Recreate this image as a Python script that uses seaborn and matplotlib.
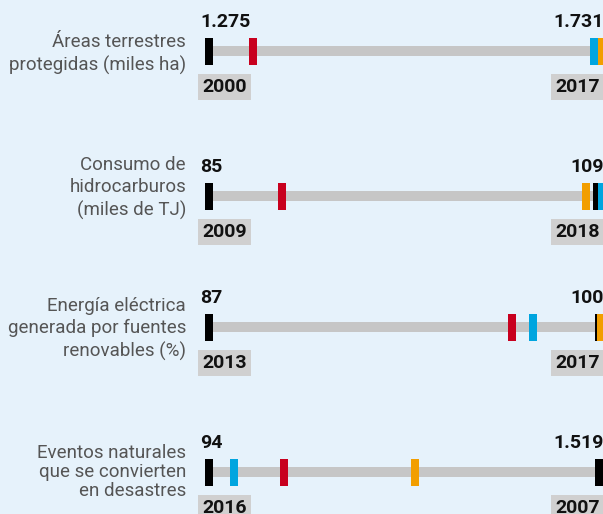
import matplotlib
matplotlib.use('Agg')
import matplotlib.pyplot as plt
from matplotlib.path import Path
import seaborn as sns
import pandas as pd

# --- data -------------------------------------------------------------
labels = ['Áreas terrestres\nprotegidas (miles ha)',
          'Consumo de\nhidrocarburos\n(miles de TJ)',
          'Energía eléctrica\ngenerada por fuentes\nrenovables (%)',
          'Eventos naturales\nque se convierten\nen desastres']
min_vals = [1275, 85, 87, 94]
max_vals = [1731, 109, 100, 1519]
min_txt = ['1.275', '85', '87', '94']
max_txt = ['1.731', '109', '100', '1.519']
min_year = ['2000', '2009', '2013', '2016']
max_year = ['2017', '2018', '2017', '2007']

# marker values per row
red_vals = [1326, 89.5, 97.1, 368]
black_vals = [1731, 108.9, 100, 1519]
blue_vals = [1725, 109.2, 97.8, 185]
orange_vals = [1735, 108.2, 100.07, 848]

BG = '#e6f2fb'
BAR = '#c6c6c6'
colors = {'min': '#000000', 'red': '#c8001e', 'black': '#000000',
          'blue': '#00a5df', 'orange': '#f29e00'}

# layout: row centres in pixels (y axis runs in pixels, top = 0)
row_y = [51, 196, 327, 472]
label_dy = [3, -8, 2, 0]
label_ls = [1.3, 1.3, 1.3, 1.1]

sns.set_theme(style='white')
plt.rcParams['font.family'] = ['Roboto', 'DejaVu Sans']

fig = plt.figure(figsize=(6.03, 5.14), dpi=100)
fig.patch.set_facecolor(BG)
ax = fig.add_axes([0, 0, 1, 1])
ax.set_facecolor(BG)
# t = 0 at the row minimum, t = 1 at the row maximum
ax.set_xlim(-209 / 390, (603 - 209) / 390)
ax.set_ylim(514, 0)
ax.axis('off')

rows = []
series = [('min', min_vals), ('red', red_vals), ('black', black_vals),
          ('blue', blue_vals), ('orange', orange_vals)]
for name, vals in series:
    for i, v in enumerate(vals):
        t = (v - min_vals[i]) / (max_vals[i] - min_vals[i])
        rows.append({'serie': name, 't': t, 'y': row_y[i]})
df = pd.DataFrame(rows)

# grey track
lc = ax.hlines(row_y, 0, 1.05, color=BAR, linewidth=7.2, zorder=1)
lc.set_capstyle('butt')

# tall rectangular ticks
rect = Path([(-4 / 27, -0.5), (4 / 27, -0.5), (4 / 27, 0.5), (-4 / 27, 0.5), (-4 / 27, -0.5)],
            [Path.MOVETO, Path.LINETO, Path.LINETO, Path.LINETO, Path.CLOSEPOLY])
sns.scatterplot(data=df, x='t', y='y', hue='serie', palette=colors,
                marker=rect, s=(27 * 0.72) ** 2, linewidth=0,
                legend=False, ax=ax, zorder=3)
ax.set_xlabel('')
ax.set_ylabel('')

ybox = dict(boxstyle='square,pad=0.22', facecolor='#d0d0d0', edgecolor='none')
for i in range(len(labels)):
    y = row_y[i]
    ax.text(-23 / 390, y + label_dy[i], labels[i],
            ha='right', va='center', fontsize=13.5, color='#555555',
            linespacing=label_ls[i])
    ax.annotate(min_txt[i], (0, y - 24), xytext=(-6.5, 0), textcoords='offset points',
                ha='left', va='baseline', fontsize=14, fontweight='bold', color='#111111')
    ax.annotate(max_txt[i], (1, y - 24), xytext=(3.6, 0), textcoords='offset points',
                ha='right', va='baseline', fontsize=14, fontweight='bold', color='#111111')
    ax.annotate(min_year[i], (0, y + 41), xytext=(-5, 0), textcoords='offset points',
                ha='left', va='baseline', fontsize=14, fontweight='bold', color='#111111',
                bbox=ybox)
    ax.annotate(max_year[i], (1, y + 41), xytext=(0.7, 0), textcoords='offset points',
                ha='right', va='baseline', fontsize=14, fontweight='bold', color='#111111',
                bbox=ybox)

fig.savefig('out.png', dpi=100, facecolor=BG)
plt.close()
